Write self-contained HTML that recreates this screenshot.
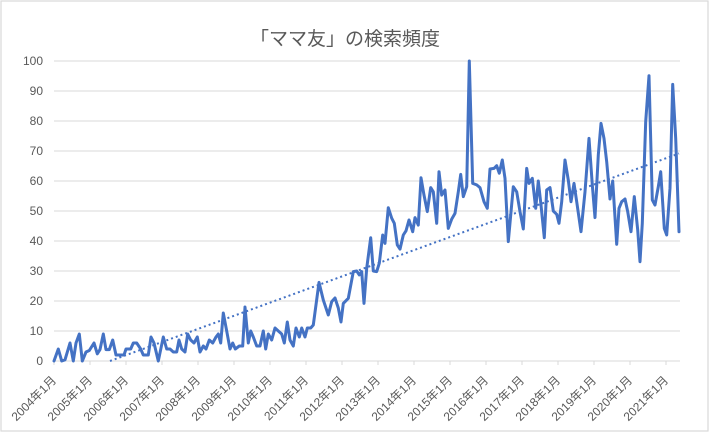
<!DOCTYPE html>
<html>
<head>
<meta charset="utf-8">
<style>
html,body{margin:0;padding:0;background:#fff;}
svg{display:block;}
text{font-family:"Liberation Sans","Noto Sans CJK JP",sans-serif;fill:#595959;}
</style>
</head>
<body>
<svg width="710" height="434" viewBox="0 0 710 434" xmlns="http://www.w3.org/2000/svg">
<rect x="0" y="0" width="710" height="434" fill="#fff"/>
<rect x="1" y="1" width="707" height="430" fill="#fff" stroke="#D9D9D9" stroke-width="1.2"/>
<text x="345" y="45" font-size="19" text-anchor="middle">「ママ友」の検索頻度</text>
<g stroke="#D9D9D9" stroke-width="1">
<line x1="54" y1="61" x2="680" y2="61"/>
<line x1="54" y1="91" x2="680" y2="91"/>
<line x1="54" y1="121" x2="680" y2="121"/>
<line x1="54" y1="151" x2="680" y2="151"/>
<line x1="54" y1="181" x2="680" y2="181"/>
<line x1="54" y1="211" x2="680" y2="211"/>
<line x1="54" y1="241" x2="680" y2="241"/>
<line x1="54" y1="271" x2="680" y2="271"/>
<line x1="54" y1="301" x2="680" y2="301"/>
<line x1="54" y1="331" x2="680" y2="331"/>
<line x1="54" y1="361" x2="680" y2="361"/>
<line x1="54" y1="361" x2="54" y2="365"/>
<line x1="90" y1="361" x2="90" y2="365"/>
<line x1="126" y1="361" x2="126" y2="365"/>
<line x1="162" y1="361" x2="162" y2="365"/>
<line x1="198" y1="361" x2="198" y2="365"/>
<line x1="234" y1="361" x2="234" y2="365"/>
<line x1="270" y1="361" x2="270" y2="365"/>
<line x1="306" y1="361" x2="306" y2="365"/>
<line x1="342" y1="361" x2="342" y2="365"/>
<line x1="378" y1="361" x2="378" y2="365"/>
<line x1="414" y1="361" x2="414" y2="365"/>
<line x1="450" y1="361" x2="450" y2="365"/>
<line x1="486" y1="361" x2="486" y2="365"/>
<line x1="522" y1="361" x2="522" y2="365"/>
<line x1="558" y1="361" x2="558" y2="365"/>
<line x1="594" y1="361" x2="594" y2="365"/>
<line x1="630" y1="361" x2="630" y2="365"/>
<line x1="666" y1="361" x2="666" y2="365"/>
</g>
<g font-size="12" text-anchor="end">
<text x="43" y="65">100</text>
<text x="43" y="95">90</text>
<text x="43" y="125">80</text>
<text x="43" y="155">70</text>
<text x="43" y="185">60</text>
<text x="43" y="215">50</text>
<text x="43" y="245">40</text>
<text x="43" y="275">30</text>
<text x="43" y="305">20</text>
<text x="43" y="335">10</text>
<text x="43" y="365">0</text>
</g>
<g font-size="12" text-anchor="end">
<text transform="translate(57,381) rotate(-45)">2004年1月</text>
<text transform="translate(93,381) rotate(-45)">2005年1月</text>
<text transform="translate(129,381) rotate(-45)">2006年1月</text>
<text transform="translate(165,381) rotate(-45)">2007年1月</text>
<text transform="translate(201,381) rotate(-45)">2008年1月</text>
<text transform="translate(237,381) rotate(-45)">2009年1月</text>
<text transform="translate(273,381) rotate(-45)">2010年1月</text>
<text transform="translate(309,381) rotate(-45)">2011年1月</text>
<text transform="translate(345,381) rotate(-45)">2012年1月</text>
<text transform="translate(381,381) rotate(-45)">2013年1月</text>
<text transform="translate(417,381) rotate(-45)">2014年1月</text>
<text transform="translate(453,381) rotate(-45)">2015年1月</text>
<text transform="translate(489,381) rotate(-45)">2016年1月</text>
<text transform="translate(525,381) rotate(-45)">2017年1月</text>
<text transform="translate(561,381) rotate(-45)">2018年1月</text>
<text transform="translate(597,381) rotate(-45)">2019年1月</text>
<text transform="translate(633,381) rotate(-45)">2020年1月</text>
<text transform="translate(669,381) rotate(-45)">2021年1月</text>
</g>
<polyline fill="none" stroke="#4472C4" stroke-width="3" stroke-linejoin="round" stroke-linecap="round" points="
54,361 58.3,349 61.7,361 65,359.8 70,343 73.3,361 76,343 79.3,334 82.3,361 86,352 89.3,350.5 94,343 97.3,353.8 100,349.6 103.3,334 106,349.6 109.3,349.6 112.7,340 116,355 120,355 124,355 126,349 130.7,349 133.3,343 136.7,343 140.7,349 143.3,355 148.3,355 151,337 154,343 158.3,361 163.3,337 166.7,349 170,349 173.3,352 176.7,352 179,340 181.7,349 185,352 187.7,334 190.7,340 194,343 197.3,337 200,352 203.3,346 206,349 209.3,340 212.7,343 216,337 218.3,334 220.7,343 223.3,313 226.7,331 230,349 232.7,343 235.3,349 239.3,346 242.7,346 245,307 248.3,343 250.7,331 253.3,337 256.7,346 260,346 263.3,331 265.7,349 268.3,334 271.7,340 275,328 278.3,331 281.7,334 284.3,343 287.3,322 290,340 293.3,346 296,328 299.3,337 301.7,328 305,337 307.3,328 310.7,328 313.3,325 319,282.4 323.3,300 328.3,315 331.7,301.6 335,298 338.3,308 341,322 343.3,303.4 348.3,298.3 353.3,271.6 356.7,271 359.3,274.9 361.7,271.6 364,303.4 366.7,268.3 370.7,237.7 373.3,271 376.7,271.6 379.3,263.2 382.7,235 385,243.4 388.3,207.7 391.7,218.2 394.3,223.3 397.3,244.9 400,249.1 403.3,235 406,230.8 409,220 412.7,231.7 415,217.6 418.3,225.1 421,177.7 424,195.1 427.3,211.6 430.7,187.6 433.3,191.8 436.7,223.3 439,171.7 441.7,195.1 445,190 448.3,228.4 451.7,219.1 455,213.4 458.3,191.8 460.7,174.4 463.3,196.6 466.7,186.7 469.3,61 472.7,183.4 476.7,184.9 480,187.6 484,201.7 487.3,208.3 490,169 494,168.4 496.7,165.7 499.3,173.2 502.3,160 505,178.3 508.3,241.6 513.3,186.7 516.7,191.8 520,211.6 523.3,229 526.7,168.4 529,183.4 532.3,178.3 535.7,208.3 538.3,181 541,205 544.3,237.7 546.7,190 550,187.6 553.3,211 556.7,214.3 559,223.3 561.7,201.7 565,160 568.3,180.1 571,201.7 574,183.4 576.7,201.7 581,231.7 585,191.8 589,138.4 592.3,184.9 595,217.6 598.3,154.9 601,123.4 604,138.4 606.7,161.8 610,199 612.7,181 616.7,244.3 619,208.3 621.7,201.7 625,199 627.7,211.6 631,231.7 634.3,196.6 637.7,229.9 640,261.7 642.3,223.3 645.7,121.6 649,75.7 652.3,199.9 655,205 658.3,186.7 660.7,171.7 664.3,228.4 666.7,235 670,188.2 672.7,84.4 675.7,138.4 679,231.7"/>
<line x1="110" y1="361" x2="679" y2="153.5" stroke="#4472C4" stroke-width="2" stroke-dasharray="2,3"/>
</svg>
</body>
</html>
